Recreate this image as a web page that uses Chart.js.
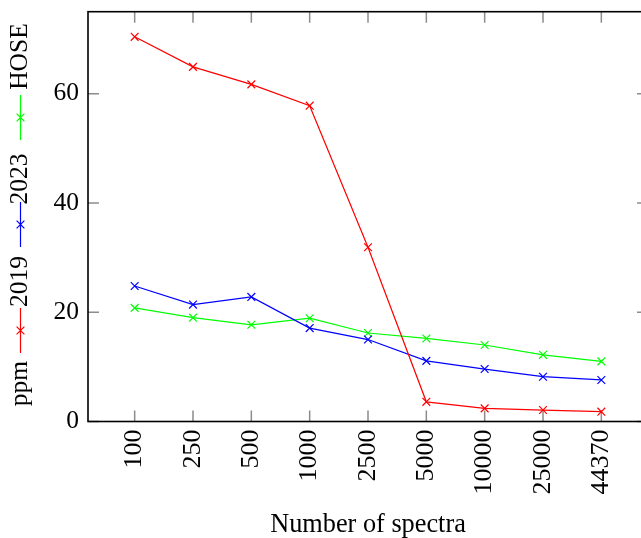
<!DOCTYPE html>
<html>
<head>
<meta charset="utf-8">
<script src="https://cdn.jsdelivr.net/npm/chart.js@4/dist/chart.umd.min.js"></script>
<style>
html, body { margin: 0; padding: 0; overflow: hidden; background: #fff; width: 641px; height: 538px; }
canvas { display: block; }
</style>
</head>
<body>
<canvas id="c" width="660" height="538"></canvas>
<script>
const categories = ["100", "250", "500", "1000", "2500", "5000", "10000", "25000", "44370"];
const series2019 = [70.4, 64.9, 61.7, 57.8, 31.9, 3.6, 2.4, 2.1, 1.8];
const series2023 = [24.8, 21.4, 22.8, 17.1, 15.0, 11.1, 9.6, 8.2, 7.6];
const seriesHOSE = [20.8, 19.0, 17.7, 18.9, 16.2, 15.2, 14.0, 12.2, 11.0];
const yTicks = [0, 20, 40, 60];
const seriesNames = ["2019", "2023", "HOSE"];
const seriesColors = ["#ff0000", "#0000ff", "#00ff00"];
const yLabel = "ppm";
const xLabel = "Number of spectra";

const FONT = "'Liberation Serif', 'Times New Roman', serif";

function toPoints(arr) { return arr.map((v, i) => ({ x: i, y: v })); }

const datasets = [series2019, series2023, seriesHOSE].map((s, k) => ({
  label: seriesNames[k],
  data: toPoints(s),
  borderColor: seriesColors[k],
  backgroundColor: seriesColors[k],
  borderWidth: 1.2,
  pointStyle: 'crossRot',
  pointRadius: 5.5,
  pointBorderWidth: 1.2,
  pointHoverRadius: 5.5,
  tension: 0,
  fill: false
}));

const framePlugin = {
  id: 'frame',
  beforeDatasetsDraw(chart) {
    const { ctx, chartArea: a, scales } = chart;
    const tl = 11;
    ctx.save();
    ctx.strokeStyle = '#8c8c8c';
    ctx.lineWidth = 1.5;
    ctx.beginPath();
    categories.forEach((c, i) => {
      const x = scales.x.getPixelForValue(i);
      ctx.moveTo(x, a.bottom); ctx.lineTo(x, a.bottom - tl);
      ctx.moveTo(x, a.top); ctx.lineTo(x, a.top + tl);
    });
    yTicks.forEach(v => {
      const y = scales.y.getPixelForValue(v);
      ctx.moveTo(a.left, y); ctx.lineTo(a.left + tl, y);
      ctx.moveTo(a.right, y); ctx.lineTo(a.right - tl, y);
    });
    ctx.stroke();
    ctx.restore();
  },
  afterDatasetsDraw(chart) {
    const { ctx, chartArea: a } = chart;
    ctx.save();
    ctx.strokeStyle = '#000';
    ctx.lineWidth = 1.6;
    ctx.strokeRect(a.left, a.top, a.right - a.left, a.bottom - a.top);
    ctx.restore();
  }
};

const sideLegendPlugin = {
  id: 'sideLegend',
  afterDraw(chart) {
    const ctx = chart.ctx;
    const cx = 20.5;
    const items = [
      { type: 'text', text: yLabel, c: 383.5 },
      { type: 'line', color: seriesColors[0], y0: 308, y1: 353 },
      { type: 'text', text: seriesNames[0], c: 281.5 },
      { type: 'line', color: seriesColors[1], y0: 202, y1: 247 },
      { type: 'text', text: seriesNames[1], c: 179 },
      { type: 'line', color: seriesColors[2], y0: 95, y1: 140 },
      { type: 'text', text: seriesNames[2], c: 56.5 }
    ];
    ctx.save();
    items.forEach(it => {
      if (it.type === 'text') {
        ctx.save();
        ctx.translate(cx, it.c);
        ctx.rotate(-Math.PI / 2);
        ctx.font = "25.5px " + FONT;
        ctx.fillStyle = '#000';
        ctx.textAlign = 'center';
        ctx.textBaseline = 'middle';
        ctx.fillText(it.text, 0, 0);
        ctx.restore();
      } else {
        ctx.strokeStyle = it.color;
        ctx.lineWidth = 1.2;
        ctx.beginPath();
        ctx.moveTo(cx, it.y0); ctx.lineTo(cx, it.y1);
        const m = (it.y0 + it.y1) / 2, r = 3.9;
        ctx.moveTo(cx - r, m - r); ctx.lineTo(cx + r, m + r);
        ctx.moveTo(cx + r, m - r); ctx.lineTo(cx - r, m + r);
        ctx.stroke();
      }
    });
    ctx.restore();
  }
};

new Chart(document.getElementById('c'), {
  type: 'line',
  data: { datasets },
  options: {
    responsive: false,
    animation: false,
    devicePixelRatio: 1,
    layout: { autoPadding: false, padding: { top: 11.7, left: 0, right: 12, bottom: 0 } },
    plugins: { legend: { display: false }, tooltip: { enabled: false } },
    scales: {
      x: {
        type: 'linear',
        min: -0.8,
        max: 8.8,
        grid: { display: false, drawTicks: false },
        border: { display: false },
        ticks: {
          stepSize: 1,
          autoSkip: false,
          minRotation: 90,
          maxRotation: 90,
          padding: 8,
          color: '#000',
          font: { family: FONT, size: 26 },
          callback: (v) => categories[v] !== undefined ? categories[v] : ''
        },
        afterBuildTicks: (s) => { s.ticks = categories.map((c, i) => ({ value: i })); },
        afterFit: (s) => { s.height = 538 - 421.5; s.paddingLeft = 0; s.paddingRight = 0; },
        title: {
          display: true,
          text: xLabel,
          color: '#000',
          font: { family: FONT, size: 26.3, lineHeight: 1 },
          padding: { top: 0, bottom: -0.5 }
        }
      },
      y: {
        min: 0,
        max: 75,
        grid: { display: false, drawTicks: false },
        border: { display: false },
        ticks: {
          stepSize: 20,
          padding: 9,
          color: '#000',
          font: { family: FONT, size: 25.5 }
        },
        afterBuildTicks: (s) => { s.ticks = yTicks.map(v => ({ value: v })); },
        afterFit: (s) => { s.width = 88; s.paddingTop = 0; s.paddingBottom = 0; }
      }
    }
  },
  plugins: [framePlugin, sideLegendPlugin]
});
</script>
</body>
</html>
